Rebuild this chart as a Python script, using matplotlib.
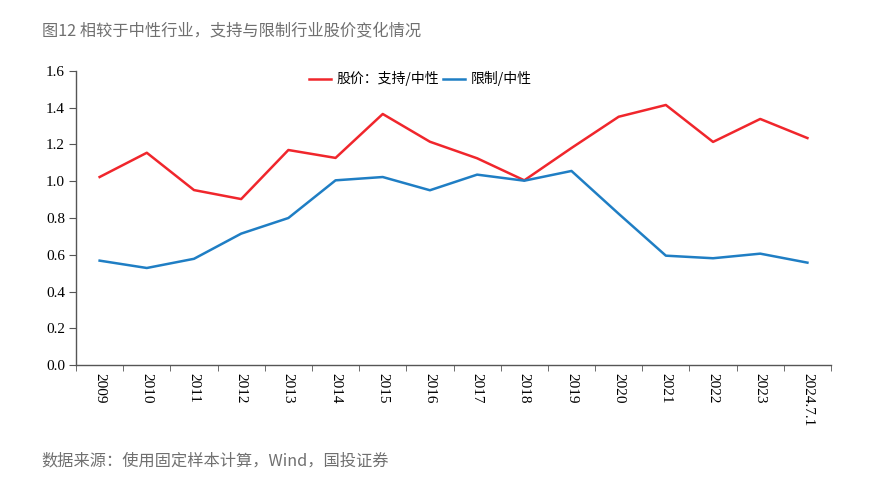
import numpy as np
import matplotlib.pyplot as plt

plt.rcParams['font.family'] = ['Noto Sans CJK SC', 'DejaVu Sans']

years = ['2009', '2010', '2011', '2012', '2013', '2014', '2015', '2016',
         '2017', '2018', '2019', '2020', '2021', '2022', '2023', '2024.7.1']
support = [1.023, 1.155, 0.952, 0.903, 1.170, 1.127, 1.366, 1.215,
           1.125, 1.005, 1.181, 1.351, 1.415, 1.214, 1.339, 1.235]
restrict = [0.568, 0.528, 0.578, 0.715, 0.800, 1.005, 1.023, 0.951,
            1.036, 1.003, 1.056, 0.823, 0.595, 0.581, 0.606, 0.557]

fig = plt.figure(figsize=(8.85, 4.94), dpi=100)
ax = fig.add_axes([0.0859, 0.2611, 0.8531, 0.5952])

x = np.arange(len(years))
ax.plot(x, support, color='#f0262c', lw=1.8, label='股价：支持/中性')
ax.plot(x, restrict, color='#1f7ec4', lw=1.8, label='限制/中性')

ax.set_xlim(-0.5, len(years) - 0.5)
ax.set_ylim(0, 1.6)
ax.set_yticks(np.arange(0, 1.61, 0.2))
ax.set_yticklabels([f'{v:.1f}' for v in np.arange(0, 1.61, 0.2)],
                   family='Liberation Serif', fontsize=11)
ax.set_xticks(x)
ax.set_xticklabels(years, rotation=270, family='Liberation Serif', fontsize=11)
ax.set_xticks(np.arange(-0.5, len(years)), minor=True)
ax.tick_params(axis='x', which='major', length=0, pad=6)
ax.tick_params(axis='x', which='minor', length=4, direction='out', color='#555555')
ax.tick_params(axis='y', length=5, direction='out', color='#555555', pad=3)

for s in ['top', 'right']:
    ax.spines[s].set_visible(False)
for s in ['left', 'bottom']:
    ax.spines[s].set_color('#555555')
    ax.spines[s].set_linewidth(1.0)

ax.legend(loc='center', bbox_to_anchor=(0.456, 0.973), ncol=2, frameon=False,
          fontsize=10, handlelength=1.6, handletextpad=0.4, columnspacing=0.3)

fig.text(0.047, 0.935, '图12 相较于中性行业，支持与限制行业股价变化情况',
         fontsize=11.7, color='#707070', va='center')
fig.text(0.047, 0.067, '数据来源：使用固定样本计算，Wind，国投证券',
         fontsize=11.7, color='#707070', va='center')

fig.savefig('out.png', dpi=100)
